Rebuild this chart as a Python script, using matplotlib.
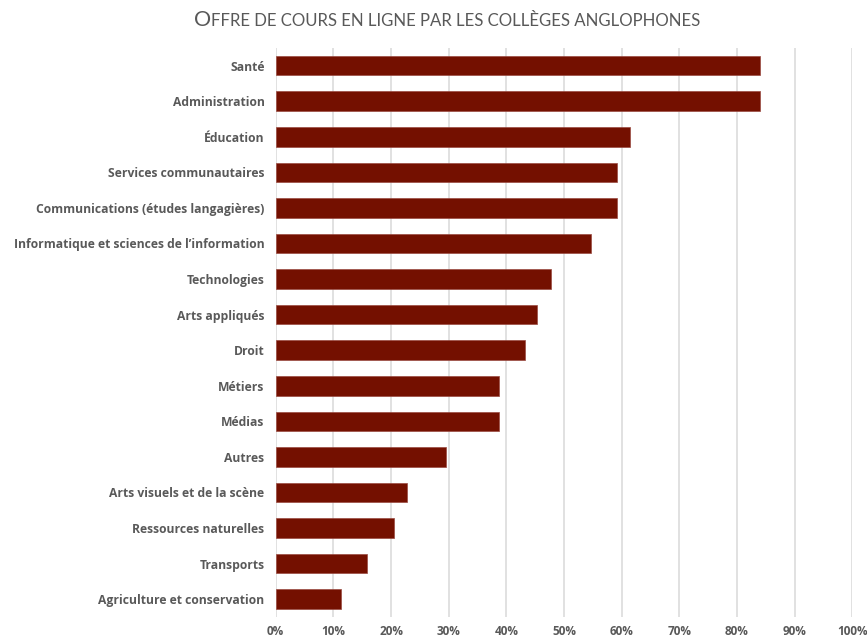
import matplotlib
matplotlib.use("Agg")
import matplotlib.pyplot as plt
from matplotlib.ticker import FuncFormatter

categories = [
    "Santé", "Administration", "Éducation", "Services communautaires",
    "Communications (études langagières)",
    "Informatique et sciences de l’information", "Technologies",
    "Arts appliqués", "Droit", "Métiers", "Médias", "Autres",
    "Arts visuels et de la scène", "Ressources naturelles", "Transports",
    "Agriculture et conservation",
]
values = [84.0, 84.0, 61.5, 59.2, 59.2, 54.6, 47.7, 45.4, 43.3, 38.7, 38.7,
          29.5, 22.8, 20.6, 15.9, 11.3]
xticks = [0, 10, 20, 30, 40, 50, 60, 70, 80, 90, 100]

FONT = "Open Sans"
TFONT = "Lato"
GREY = "#595959"
BAR = "#741000"

fig = plt.figure(figsize=(8.67, 6.38), dpi=100)
ax = fig.add_axes([0.318, 0.033, 0.665, 0.892])

y = list(range(len(categories)))
ax.barh(y, values, height=0.55, color=BAR, edgecolor="#9a4a40", linewidth=0.5, zorder=3)
ax.set_ylim(len(categories) - 0.5, -0.5)
ax.set_xlim(0, 100)
ax.set_yticks(y)
ax.set_yticklabels(categories, fontfamily=FONT, fontweight="bold", fontsize=8.7, color=GREY)
ax.set_xticks(xticks)
ax.xaxis.set_major_formatter(FuncFormatter(lambda v, p: f"{int(v)}%"))
for lab in ax.get_xticklabels():
    lab.set_fontfamily(FONT)
    lab.set_fontweight("bold")
    lab.set_fontsize(8.5)
    lab.set_color(GREY)
ax.tick_params(axis="both", length=0)
ax.tick_params(axis="y", pad=8)
ax.tick_params(axis="x", pad=6)
ax.grid(axis="x", color="#dedede", linewidth=1.3, zorder=0)
for s in ax.spines.values():
    s.set_visible(False)

# Small-caps style title
t1 = fig.text(0.0, 0.0, "O", fontfamily=TFONT, fontsize=15.5, color=GREY)
t2 = fig.text(0.0, 0.0, "FFRE DE COURS EN LIGNE PAR LES COLLÈGES ANGLOPHONES",
              fontfamily=TFONT, fontsize=12.1, color=GREY)
fig.canvas.draw()
r = fig.canvas.get_renderer()
w1 = t1.get_window_extent(r).width / fig.bbox.width
w2 = t2.get_window_extent(r).width / fig.bbox.width
total = w1 + w2
x0 = 447.5 / 867 - total / 2
yb = 1 - 26 / 638
t1.set_position((x0, yb))
t2.set_position((x0 + w1, yb))

fig.savefig("out.png", dpi=100, facecolor="white")
